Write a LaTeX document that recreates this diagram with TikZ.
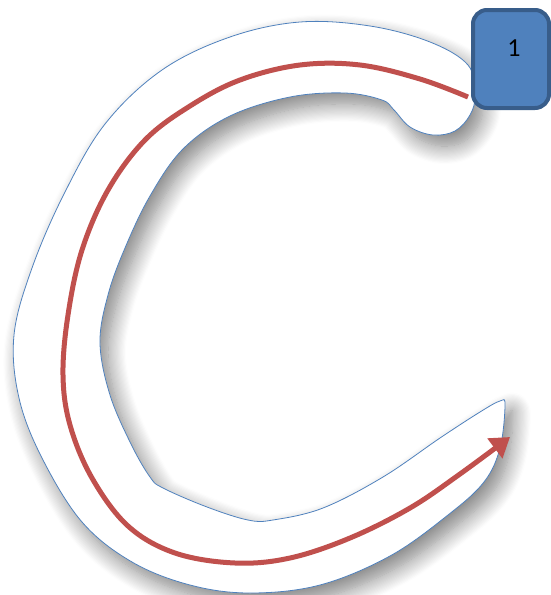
\documentclass[tikz,border=0pt]{standalone}
\usepackage{fontspec}
\setmainfont{Carlito}
\usetikzlibrary{arrows.meta,shadows.blur}

\definecolor{officeblue}{HTML}{4F81BD}
\definecolor{boxline}{HTML}{385D8A}
\definecolor{officered}{HTML}{C0504D}

\begin{document}
\begin{tikzpicture}[
    x=1pt, y=-1pt,
    outline/.style={
        draw=officeblue,
        line width=0.8pt,
        fill=white,
        blur shadow={shadow xshift=8pt, shadow yshift=-11pt,
            shadow blur radius=18pt, shadow blur steps=16, shadow opacity=50}
    },
    route/.style={
        draw=officered,
        line width=5pt,
        -{Triangle[length=19pt,width=24pt]}
    },
    numbox/.style={
        draw=boxline,
        line width=4pt,
        fill=officeblue,
        rounded corners=14pt,
        minimum width=76pt,
        minimum height=98pt
    }
]
\useasboundingbox (0,0) rectangle (550,595);

% Letter outline
\path[outline] plot[smooth cycle, tension=0.6] coordinates {
    (468,65) (430,42) (370,26) (300,22) (230,37) (162,70) (105,124)
    (64,194) (32,268) (14,335) (19,398) (42,458) (82,522) (132,562)
    (190,585) (250,593) (320,585) (390,556) (448,515) (484,482)
    (500,448) (505,405) (500,401)
    (480,412) (440,438) (383,477) (323,508) (273,520) (248,520) (207,507)
    (163,488) (150,477) (131,444) (110,395) (100,343) (108,295) (125,248)
    (150,196) (183,149) (230,116) (290,97) (345,93) (382,100)
    (394,110) (410,127) (433,135) (455,131) (470,115) (475,95)};

% Start box
\node[numbox, label={[font=\fontsize{26}{30}\selectfont, xshift=3pt, yshift=11pt]center:1}] (start) at (511,59) {};

% Stroke direction
\coordinate (finish) at (510,437);
\draw[route] plot[smooth, tension=0.6] coordinates {
    (468,97) (420,79) (360,65) (300,65) (240,80) (190,106) (145,140)
    (108,190) (82,250) (68,315) (63,375) (70,425) (92,478) (128,526)
    (175,553) (235,563) (290,558) (350,538) (410,508) (460,474) (finish)};

\end{tikzpicture}
\end{document}
